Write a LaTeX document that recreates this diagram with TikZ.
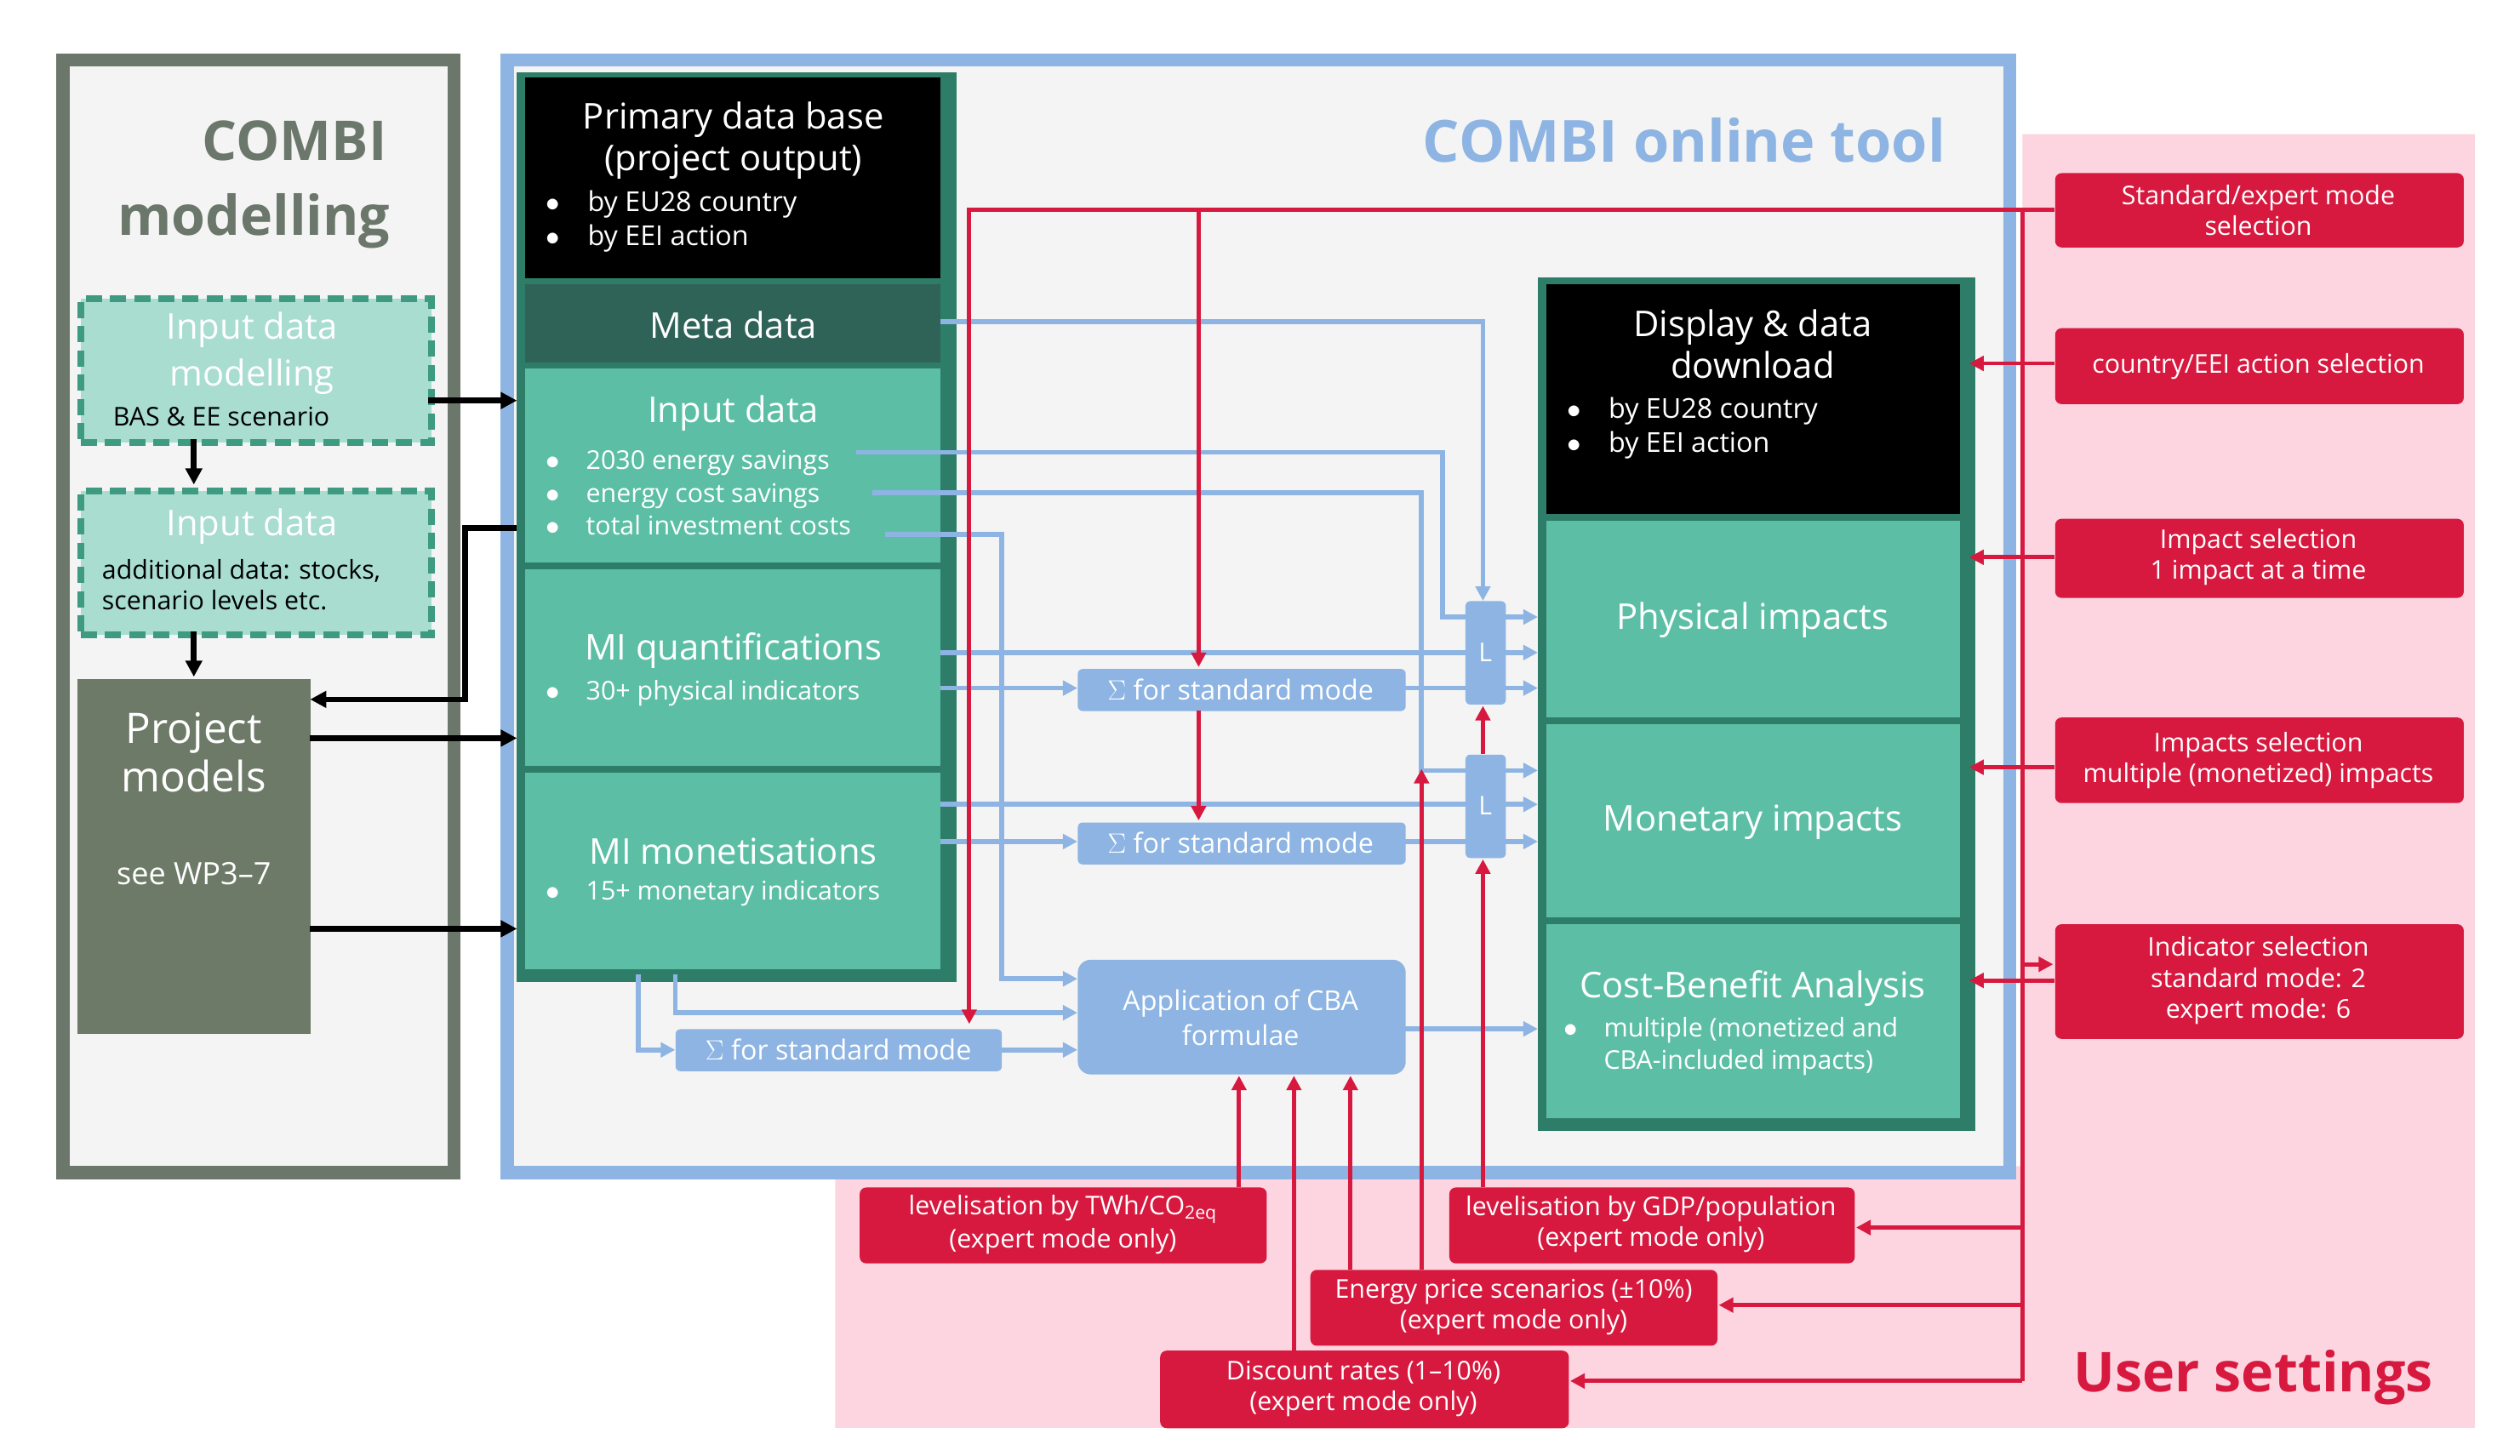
\documentclass[tikz,border=0pt]{standalone}
\usepackage{fontspec}
\setmainfont{Open Sans}
\usetikzlibrary{arrows.meta}
\definecolor{teal1}{HTML}{5CBFA5}
\definecolor{teald}{HTML}{2F6358}
\definecolor{tealb}{HTML}{2E7D68}
\definecolor{teall}{HTML}{A8DDD0}
\definecolor{tealdash}{HTML}{3E9A80}
\definecolor{grayb}{HTML}{6E7A68}
\definecolor{grayf}{HTML}{6B776B}
\definecolor{blu}{HTML}{8DB4E2}
\definecolor{rd}{HTML}{D7193F}
\definecolor{pnk}{HTML}{FCD5E0}
\definecolor{bg}{HTML}{F4F4F4}
\newcommand\bx[6]{\node[#6,anchor=north west,inner sep=0pt,minimum width=#4-#2,minimum height=#5-#3] (#1) at (#2,#3) {};}
\newcommand\fs[1]{\fontsize{#1}{#1}\selectfont}
\tikzset{
 tb/.style={fill=teal1},
 blk/.style={fill=black},
 sig/.style={fill=blu,rounded corners=3pt},
 rb/.style={fill=rd,rounded corners=4pt},
 bl/.style={blu,line width=3pt,-{Triangle[length=9pt,width=9pt]}},
 bln/.style={blu,line width=3pt},
 rl/.style={rd,line width=2.5pt,-{Triangle[length=9pt,width=9pt]}},
 rln/.style={rd,line width=2.5pt},
 kl/.style={black,line width=3.5pt,-{Triangle[length=10pt,width=10pt]}},
 wt/.style={text=white,align=center,inner sep=0pt},
 bul/.style={text=white,align=left,inner sep=0pt,anchor=west},
 dbox/.style={fill=teall,draw=tealdash,dash pattern=on 10pt off 5pt,line width=4pt},
}
\begin{document}
\begin{tikzpicture}[x=1pt,y=-1pt]
\useasboundingbox (0,0) rectangle (1560,901);
\fill[white] (0,0) rectangle (1560,901);
% pink region
\fill[pnk] (1252,83)--(1532,83)--(1532,884)--(517,884)--(517,722)--(1252,722)--cycle;
% left gray frame
\bx{lframe}{35}{33}{277}{722}{draw=grayf,line width=8pt,fill=bg}
\node[text=grayf,font=\bfseries\fs{34},align=right,anchor=east] (t1) at (243,87) {COMBI};
\node[text=grayf,font=\bfseries\fs{34},anchor=east] (t2) at (245,137) {modelling};
\bx{idm}{48}{183}{265}{272}{dbox}
\node[wt,font=\fs{22}] (idm1) at (156,204) {Input data};
\node[wt,font=\fs{22}] (idm2) at (156,233) {modelling};
\node[inner sep=0pt,font=\fs{16}] (idm3) at (137,258) {BAS \& EE scenario};
\bx{ida}{48}{302}{265}{391}{dbox}
\node[wt,font=\fs{22}] (ida1) at (156,326) {Input data};
\node[inner sep=0pt,font=\fs{16},align=left,anchor=west] (ida2) at (63,362) {additional data: stocks,\\[3pt]scenario levels etc.};
\bx{pm}{48}{420}{192}{640}{fill=grayb}
\node[wt,font=\fs{26}] (pm1) at (120,466) {Project\\[4pt]models};
\node[wt,font=\fs{19}] (pm2) at (120,541) {see WP3--7};
% online tool frame
\bx{oframe}{310}{33}{1240}{722}{draw=blu,line width=8pt,fill=bg}
\node[text=blu,font=\bfseries\fs{36},anchor=east] (ot) at (1208,87) {COMBI online tool};
% left column
\bx{lcol}{320}{45}{587}{603}{draw=tealb,line width=5pt,fill=tealb}
\bx{pdb}{325}{48}{582}{172}{blk}
\node[wt,font=\fs{22}] (pdb1) at (454,87) {Primary data base\\[4pt](project output)};
\node[bul,font=\fs{17}] (pdb2) at (338,137) {$\bullet$\quad by EU28 country\\[4pt]$\bullet$\quad by EEI action};
\bx{meta}{325}{176}{582}{224}{fill=teald}
\node[wt,font=\fs{22}] (meta1) at (454,201) {Meta data};
\bx{inp}{325}{228}{582}{348}{tb}
\node[wt,font=\fs{22}] (inp1) at (454,256) {Input data};
\node[bul,font=\fs{16}] (inp2) at (338,305) {$\bullet$\quad 2030 energy savings\\[5pt]$\bullet$\quad energy cost savings\\[4pt]$\bullet$\quad total investment costs};
\bx{miq}{325}{352}{582}{474}{tb}
\node[wt,font=\fs{22}] (miq1) at (454,403) {MI quantifications};
\node[bul,font=\fs{16}] (miq2) at (338,429) {$\bullet$\quad 30+ physical indicators};
\bx{mim}{325}{478}{582}{600}{tb}
\node[wt,font=\fs{22}] (mim1) at (454,527) {MI monetisations};
\node[bul,font=\fs{16}] (mim2) at (338,553) {$\bullet$\quad 15+ monetary indicators};
% right column
\bx{rcol}{952}{172}{1218}{695}{draw=tealb,line width=5pt,fill=tealb}
\bx{disp}{957}{176}{1213}{318}{blk}
\node[wt,font=\fs{22}] (disp1) at (1085,213) {Display \& data\\[4pt]download};
\node[bul,font=\fs{17}] (disp2) at (970,265) {$\bullet$\quad by EU28 country\\[4pt]$\bullet$\quad by EEI action};
\bx{phy}{957}{322}{1213}{444}{tb}
\node[wt,font=\fs{22}] (phy1) at (1085,384) {Physical impacts};
\bx{mon}{957}{448}{1213}{568}{tb}
\node[wt,font=\fs{22}] (mon1) at (1085,509) {Monetary impacts};
\bx{cba}{957}{572}{1213}{692}{tb}
\node[wt,font=\fs{22}] (cba1) at (1085,612) {Cost-Benefit Analysis};
\node[bul,font=\fs{16}] (cba2) at (968,648) {$\bullet$\quad multiple (monetized and\\[4pt]\phantom{$\bullet$\quad}CBA-included impacts)};
% sigma boxes
\bx{s1}{667}{414}{870}{440}{sig}
\node[wt,font=\fs{17}] at (768,427) {$\Sigma$ for standard mode};
\bx{s2}{667}{509}{870}{535}{sig}
\node[wt,font=\fs{17}] at (768,522) {$\Sigma$ for standard mode};
\bx{s3}{418}{637}{620}{663}{sig}
\node[wt,font=\fs{17}] at (519,650) {$\Sigma$ for standard mode};
\bx{acba}{667}{594}{870}{665}{fill=blu,rounded corners=8pt}
\node[wt,font=\fs{17}] at (768,630) {Application of CBA\\[3pt]formulae};
\bx{L1}{907}{372}{932}{436}{fill=blu,rounded corners=3pt}
\node[wt,font=\fs{16}] at (919.5,404) {L};
\bx{L2}{907}{467}{932}{531}{fill=blu,rounded corners=3pt}
\node[wt,font=\fs{16}] at (919.5,499) {L};
% blue connectors
\draw[bl] (582,199)--(918,199)--(918,372);
\draw[bln] (530,280)--(893,280)--(893,382)--(907,382);
\draw[bln] (540,305)--(880,305)--(880,477)--(907,477);
\draw[bl] (548,331)--(620,331)--(620,606)--(667,606);
\draw[bln] (582,404)--(907,404);
\draw[bl] (582,426)--(667,426);
\draw[bln] (870,426)--(907,426);
\draw[bln] (582,498)--(907,498);
\draw[bl] (582,521)--(667,521);
\draw[bln] (870,521)--(907,521);
\foreach \yy in {382,404,426,477,498,521} \draw[bl] (932,\yy)--(952,\yy);
\draw[bl] (395,603)--(395,650)--(418,650);
\draw[bl] (620,650)--(667,650);
\draw[bl] (418,603)--(418,627)--(667,627);
\draw[bl] (870,637)--(952,637);
% black connectors
\draw[kl] (265,248)--(320,248);
\draw[kl] (120,272)--(120,300);
\draw[kl] (120,391)--(120,419);
\draw[kl] (320,327)--(288,327)--(288,433)--(192,433);
\draw[kl] (192,457)--(320,457);
\draw[kl] (192,575)--(320,575);
% red boxes
\bx{r1}{1272}{107}{1525}{153}{rb}
\node[wt,font=\fs{16}] at (1398,130) {Standard/expert mode\\[3pt]selection};
\bx{r2}{1272}{203}{1525}{250}{rb}
\node[wt,font=\fs{16}] at (1398,227) {country/EEI action selection};
\bx{r3}{1272}{321}{1525}{370}{rb}
\node[wt,font=\fs{16}] at (1398,345) {Impact selection\\[3pt]1 impact at a time};
\bx{r4}{1272}{444}{1525}{497}{rb}
\node[wt,font=\fs{16}] at (1398,471) {Impacts selection\\[3pt]multiple (monetized) impacts};
\bx{r5}{1272}{572}{1525}{643}{rb}
\node[wt,font=\fs{16}] at (1398,607) {Indicator selection\\[3pt]standard mode: 2\\[3pt]expert mode: 6};
\bx{r6}{532}{735}{784}{782}{rb}
\node[wt,font=\fs{16}] at (658,758) {levelisation by TWh/CO\textsubscript{2eq}\\[2pt](expert mode only)};
\bx{r7}{897}{735}{1148}{782}{rb}
\node[wt,font=\fs{16}] at (1022,758) {levelisation by GDP/population\\[3pt](expert mode only)};
\bx{r8}{811}{786}{1063}{833}{rb}
\node[wt,font=\fs{16}] at (937,809) {Energy price scenarios (±10\%)\\[3pt](expert mode only)};
\bx{r9}{718}{836}{971}{884}{rb}
\node[wt,font=\fs{16}] at (844,860) {Discount rates (1--10\%)\\[3pt](expert mode only)};
\node[text=rd,font=\bfseries\fs{34}] (us) at (1395,853) {User settings};
% red connectors
\draw[rln] (1272,130)--(1252,130)--(1252,855);
\draw[rl] (1252,130)--(600,130)--(600,634);
\draw[rl] (742,130)--(742,413);
\draw[rl] (742,440)--(742,508);
\draw[rl] (1272,225)--(1219,225);
\draw[rl] (1272,345)--(1219,345);
\draw[rl] (1272,475)--(1219,475);
\draw[rl] (1272,607)--(1219,607);
\draw[rl] (1252,597)--(1271,597);
\draw[rl] (1252,760)--(1149,760);
\draw[rl] (1252,808)--(1064,808);
\draw[rl] (1252,855)--(972,855);
\draw[rl] (767,735)--(767,666);
\draw[rl] (801,836)--(801,666);
\draw[rl] (836,786)--(836,666);
\draw[rl] (880,786)--(880,476);
\draw[rl] (918,735)--(918,532);
\draw[rl] (918,467)--(918,437);
\end{tikzpicture}
\end{document}
